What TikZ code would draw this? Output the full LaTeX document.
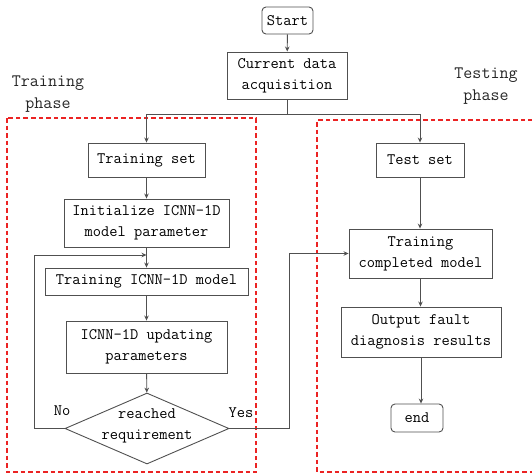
\documentclass[tikz,border=0pt]{standalone}
\usetikzlibrary{shapes.geometric,arrows.meta}
\definecolor{linec}{RGB}{80,80,80}
\definecolor{redd}{RGB}{235,35,35}
\begin{document}
\begin{tikzpicture}[x=1pt,y=-1pt,
  txt/.style={font=\ttfamily\fontsize{16}{21}\selectfont, text=black, align=center},
  ptxt/.style={font=\ttfamily\fontsize{17.5}{22}\selectfont, text=black!85, align=center},
  box/.style={txt, draw=linec, line width=0.9pt, inner sep=0pt},
  arr/.style={draw=linec, line width=0.9pt, -{Stealth[length=5pt,width=4.5pt]}},
  ln/.style={draw=linec, line width=0.9pt},
  phasebox/.style={draw=redd, line width=1.3pt, dash pattern=on 4.5pt off 3pt}]
\useasboundingbox (0,0) rectangle (532,475);
% phase frames
\draw[phasebox] (7,118) rectangle (256,472);
\draw[phasebox] (540,120) -- (317,120) -- (317,472) -- (540,472);
% nodes
\node[box, rounded corners=4pt, minimum width=51pt, minimum height=27pt] (start) at (287.5,20.5) {Start};
\node[box, minimum width=120pt, minimum height=47pt] (acq) at (287,75.5) {Current data\\acquisition};
\node[box, minimum width=117pt, minimum height=34pt] (trs) at (146.5,160) {Training set};
\node[box, minimum width=88pt, minimum height=34pt] (tes) at (420,160) {Test set};
\node[box, minimum width=165pt, minimum height=48pt] (init) at (146.5,223) {Initialize ICNN-1D\\model parameter};
\node[box, minimum width=203pt, minimum height=27pt] (tri) at (146.5,281.5) {Training ICNN-1D model};
\node[box, minimum width=161pt, minimum height=52pt] (upd) at (146.5,347) {ICNN-1D updating\\parameters};
\node[diamond, draw=linec, line width=0.9pt, minimum width=164pt, minimum height=71pt, inner sep=0pt] (dec) at (147,428.5) {};
\node[txt] (dectext) at (147,426) {reached\\requirement};
\node[box, minimum width=143pt, minimum height=49pt] (tcm) at (420.5,253.5) {Training\\completed model};
\node[box, minimum width=160pt, minimum height=50pt] (out) at (421,332) {Output fault\\diagnosis results};
\node[box, rounded corners=4pt, minimum width=52pt, minimum height=28pt] (fin) at (417,418) {end};
% labels
\node[txt] (no) at (62,411) {No};
\node[txt] (yes) at (241,413) {Yes};
\node[ptxt] (trph) at (48,94.5) {Training\\phase};
\node[ptxt] (teph) at (486,86) {Testing\\phase};
% connectors
\draw[arr] (start) -- (acq);
\coordinate (sp) at (287,114);
\draw[ln] (acq.south) -- (sp);
\draw[arr] (sp) -| (trs.north);
\draw[arr] (sp) -| (tes.north);
\draw[arr] (trs) -- (init);
\draw[arr] (init) -- (tri);
\draw[arr] (tri) -- (upd);
\draw[arr] (upd) -- (dec);
\coordinate (lp) at (146.5,255);
\coordinate (nocorner) at (34,428.5);
\draw[arr] (dec.west) -- (nocorner) |- (lp);
\coordinate (yescorner) at (289,428.5);
\draw[arr] (dec.east) -- (yescorner) |- (tcm.west);
\draw[arr] (tes.south) -- (tes.south |- tcm.north);
\draw[arr] (tcm.south) -- (tcm.south |- out.north);
\draw[arr] (out.south) -- (out.south |- fin.north);
\end{tikzpicture}
\end{document}
